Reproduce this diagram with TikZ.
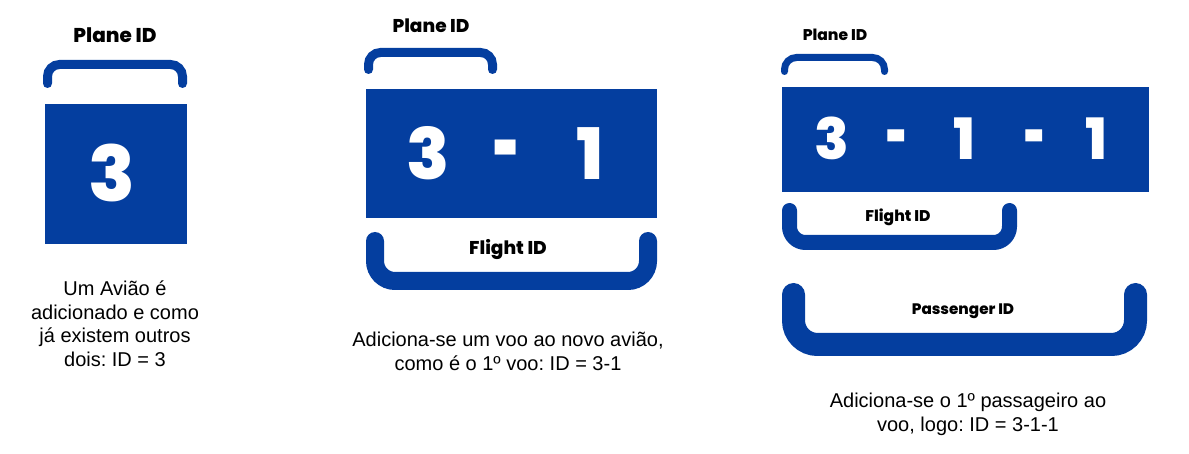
\documentclass[tikz,border=0pt]{standalone}
\usepackage{fontspec}
\setmainfont{Liberation Sans}
\newfontfamily\idfont{Poppins}[BoldFont={Poppins ExtraBold}]
\definecolor{idblue}{HTML}{043E9F}
\frenchspacing
\tikzset{
  idbox/.style={fill=idblue, inner sep=0pt, anchor=north west},
  digit/.style={text=white, font=\idfont\bfseries\fontsize{#1}{#1}\selectfont, anchor=base, inner sep=0pt},
  dash/.style={digit=#1, anchor=center, xscale=0.65, yscale=1.3, transform shape},
  idlabel/.style={font=\idfont\bfseries\fontsize{#1}{#1}\selectfont, anchor=base, inner sep=0pt},
  bracket/.style={draw=idblue, line width=#1, line cap=round, rounded corners=12pt},
  caption/.style={font=\fontsize{20}{23.5}\selectfont, align=center, anchor=north, inner sep=0pt}
}
\begin{document}
\begin{tikzpicture}[x=1pt,y=-1pt]
\useasboundingbox (0,0) rectangle (1189,454);

% plane
\node[idlabel=20] (plane1) at (115,43) {Plane ID};
\draw[bracket=9] (47.5,83.5) -- (47.5,64.5) -- (182.5,64.5) -- (182.5,83.5);
\node[idbox, minimum width=142, minimum height=140] (box1) at (45,104) {};
\node[digit=77] (p3) at (112,202) {3};
\node[caption] (cap1) at (115,281) {Um Avião é\\adicionado e como\\já existem outros\\dois: ID = 3};

% flight
\node[idlabel=18.5] (plane2) at (431,33) {Plane ID};
\draw[bracket=9] (368.5,69.5) -- (368.5,52.5) -- (492.5,52.5) -- (492.5,69.5);
\node[idbox, minimum width=291, minimum height=129] (box2) at (366,89) {};
\node[digit=71] (f3) at (428,180) {3};
\node[dash=71] (fdash) at (507,159.5) {-};
\node[digit=71] (f1) at (590,180) {1};
\draw[bracket=18, rounded corners=20pt] (375,241) -- (375,281) -- (648,281) -- (648,241);
\node[idlabel=18.5] (flight2) at (508,255) {Flight ID};
\node[caption] (cap2) at (508,332) {Adiciona-se um voo ao novo avião,\\como é o 1º voo: ID = 3-1};

% passenger
\node[idlabel=15.5] (plane3) at (835,41) {Plane ID};
\draw[bracket=7] (784.5,71.5) -- (784.5,57.5) -- (884.5,57.5) -- (884.5,71.5);
\node[idbox, minimum width=367, minimum height=105] (box3) at (782,87) {};
\node[digit=57] (s3) at (832,160) {3};
\node[dash=57] (sdashA) at (897,145.7) {-};
\node[digit=57] (s1A) at (965,160) {1};
\node[dash=57] (sdashB) at (1035,145.7) {-};
\node[digit=57] (s1B) at (1097,160) {1};
\draw[bracket=15, rounded corners=16pt] (789.5,210.5) -- (789.5,242.5) -- (1009.5,242.5) -- (1009.5,210.5);
\node[idlabel=15.5] (flight3) at (898,222) {Flight ID};
\draw[bracket=23, rounded corners=24pt] (793.5,294.5) -- (793.5,344.5) -- (1135.5,344.5) -- (1135.5,294.5);
\node[idlabel=15.2] (pass3) at (963,315) {Passenger ID};
\node[caption] (cap3) at (968,393) {Adiciona-se o 1º passageiro ao\\voo, logo: ID = 3-1-1};
\end{tikzpicture}
\end{document}
